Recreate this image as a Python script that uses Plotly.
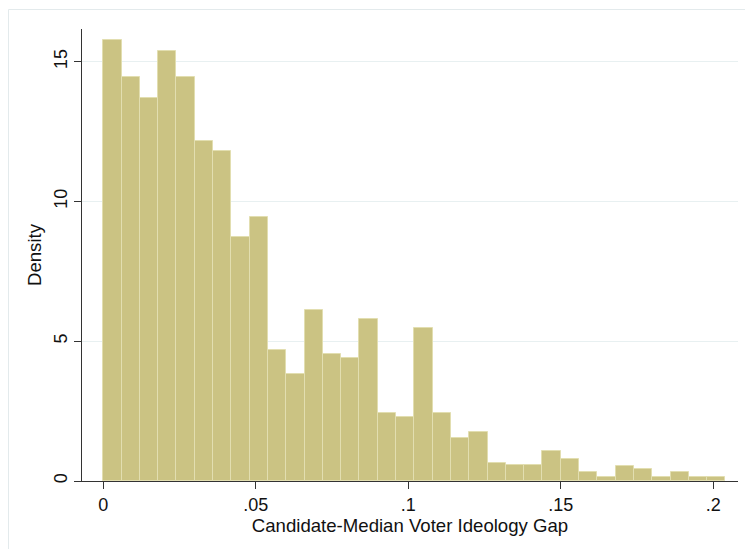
import plotly.graph_objects as go

# Histogram of the candidate-median voter ideology gap (bin width 0.006, starting at 0)
bin_start = 0.0
bin_width = 0.006
density = [15.77, 14.45, 13.70, 15.39, 14.45, 12.16, 11.80, 8.72, 9.46,
           4.70, 3.82, 6.12, 4.53, 4.39, 5.81, 2.43, 2.29, 5.47, 2.43,
           1.54, 1.77, 0.66, 0.57, 0.57, 1.06, 0.80, 0.32, 0.13, 0.54,
           0.44, 0.13, 0.32, 0.13, 0.13]
x_ticks = [0, 0.05, 0.1, 0.15, 0.2]
x_tick_labels = ["0", ".05", ".1", ".15", ".2"]
y_ticks = [0, 5, 10, 15]

centers = [bin_start + bin_width * (i + 0.5) for i in range(len(density))]

fig = go.Figure(go.Bar(
    x=centers,
    y=density,
    width=bin_width,
    marker=dict(color="#cbc383", line=dict(color="#e2deb0", width=1)),
    hoverinfo="x+y",
))

tick_font = dict(family="Liberation Sans, Arial, sans-serif", size=18, color="#111111")
title_font = dict(family="Liberation Sans, Arial, sans-serif", size=18.6, color="#111111")

L, R, T, B = 82, 7, 29, 68
W, H = 745, 549
pw, ph = W - L - R, H - T - B

fig.update_layout(
    width=W, height=H,
    margin=dict(l=L, r=R, t=T, b=B),
    paper_bgcolor="white",
    plot_bgcolor="white",
    font=tick_font,
    bargap=0,
    showlegend=False,
    xaxis=dict(
        range=[-0.00698, 0.2081],
        tickvals=x_ticks, ticktext=x_tick_labels, tickfont=tick_font,
        ticks="outside", ticklen=7, tickwidth=1, tickcolor="#333333",
        showline=True, linecolor="#333333", linewidth=1,
        showgrid=False, zeroline=False,
        title=dict(text="Candidate-Median Voter Ideology Gap", standoff=2, font=title_font),
    ),
    yaxis=dict(
        range=[0, 16.17],
        tickvals=y_ticks, tickangle=-90, tickfont=tick_font,
        ticks="outside", ticklen=7, tickwidth=1, tickcolor="#333333",
        showline=True, linecolor="#333333", linewidth=1,
        showgrid=True, gridcolor="#e8f0f1", gridwidth=1,
        zeroline=False,
        title=dict(text="Density", standoff=4, font=title_font),
    ),
    shapes=[
        # outer graph-region frame
        dict(type="rect", xref="paper", yref="paper",
             x0=(8.5 - L) / pw, x1=(W + 20 - L) / pw,
             y0=-(H + 20 - T - ph) / ph, y1=(H - B - 9.5) / ph,
             line=dict(color="#e3eaec", width=1), fillcolor="rgba(0,0,0,0)",
             layer="below"),
    ],
)

fig.write_html("out.html")
